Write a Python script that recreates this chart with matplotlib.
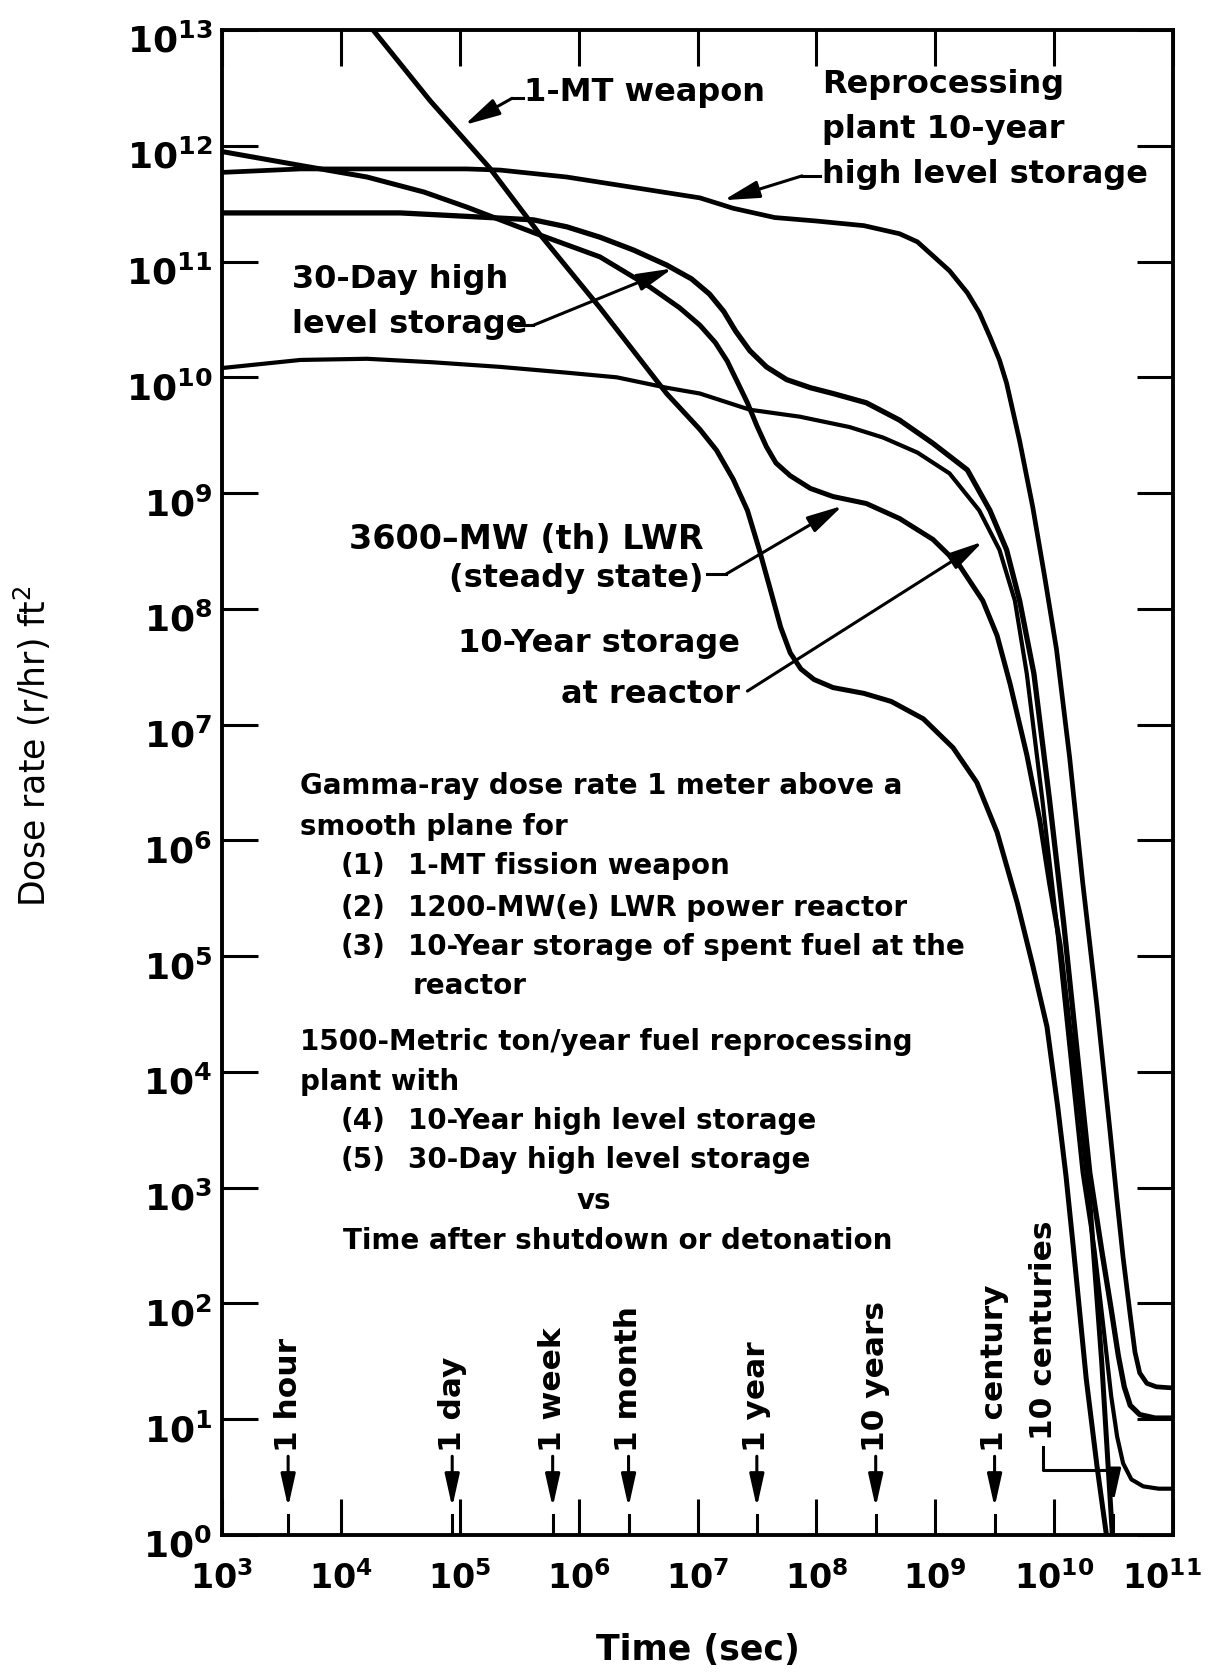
import numpy as np
import matplotlib
matplotlib.use("Agg")
import matplotlib.pyplot as plt
import matplotlib as mpl
import matplotlib.transforms as mtransforms
from matplotlib.ticker import NullLocator, FuncFormatter

mpl.rcParams['font.family'] = 'DejaVu Sans'
mpl.rcParams['mathtext.fontset'] = 'dejavusans'
mpl.rcParams['xtick.direction'] = 'in'
mpl.rcParams['ytick.direction'] = 'in'

# curves as log10(time in s), log10(dose rate)
weapon_lt = [4.20, 4.75, 5.25, 5.67, 6.18, 6.74, 7.02, 7.16, 7.30, 7.42, 7.52, 7.62, 7.70, 7.78, 7.87, 7.98,
             8.14, 8.40, 8.63, 8.90, 9.15, 9.35, 9.52, 9.69, 9.82, 9.94, 10.03, 10.10, 10.16, 10.27, 10.36, 10.44, 10.47]
weapon_ld = [13.09, 12.39, 11.81, 11.24, 10.60, 9.86, 9.55, 9.37, 9.12, 8.85, 8.51, 8.14, 7.84, 7.62, 7.48, 7.39,
             7.32, 7.27, 7.20, 7.05, 6.80, 6.50, 6.07, 5.46, 4.92, 4.39, 3.70, 3.10, 2.50, 1.35, 0.60, 0.00, -0.25]

lwr_lt = [3.00, 3.66, 4.22, 4.70, 5.06, 5.62, 6.18, 6.60, 6.85, 7.02, 7.15, 7.25, 7.34, 7.42, 7.50, 7.58, 7.66,
          7.78, 7.95, 8.14, 8.42, 8.70, 8.98, 9.20, 9.40, 9.52, 9.63, 9.77, 9.88, 9.96, 10.05, 10.13, 10.22,
          10.30, 10.40, 10.49, 10.52]
lwr_ld = [11.95, 11.83, 11.73, 11.60, 11.47, 11.25, 11.04, 10.78, 10.60, 10.45, 10.30, 10.14, 9.95, 9.78, 9.58, 9.40, 9.26,
          9.15, 9.04, 8.97, 8.91, 8.78, 8.60, 8.38, 8.07, 7.77, 7.35, 6.74, 6.17, 5.64, 5.10, 4.39, 3.67,
          2.88, 1.50, 0.00, -0.30]

day30_lt = [3.00, 4.50, 5.25, 5.62, 5.90, 6.18, 6.46, 6.74, 6.95, 7.10, 7.22, 7.32, 7.44, 7.58, 7.75, 7.95, 8.14,
            8.42, 8.70, 8.98, 9.27, 9.46, 9.60, 9.71, 9.83, 9.96, 10.08, 10.19, 10.30, 10.40, 10.48, 10.54,
            10.59, 10.64, 10.72, 10.85, 11.00]
day30_ld = [11.42, 11.42, 11.38, 11.36, 11.30, 11.21, 11.10, 10.97, 10.85, 10.72, 10.57, 10.40, 10.23, 10.09, 9.98, 9.91, 9.86,
            9.78, 9.63, 9.43, 9.20, 8.85, 8.51, 8.07, 7.44, 6.36, 5.29, 4.21, 3.13, 2.46, 1.95, 1.55,
            1.28, 1.12, 1.04, 1.01, 1.01]

reactor10_lt = [3.00, 3.66, 4.22, 4.77, 5.34, 5.90, 6.32, 6.74, 7.02, 7.44, 7.86, 8.28, 8.56, 8.85, 9.12, 9.37,
                9.54, 9.67, 9.77, 9.90, 10.02, 10.13, 10.24, 10.34, 10.42, 10.48, 10.53, 10.58, 10.65, 10.75,
                10.88, 11.00]
reactor10_ld = [10.08, 10.15, 10.16, 10.13, 10.09, 10.04, 10.00, 9.91, 9.86, 9.72, 9.66, 9.57, 9.48, 9.35, 9.17, 8.85,
                8.51, 8.07, 7.44, 6.36, 5.29, 4.21, 3.13, 2.46, 1.75, 1.20, 0.85, 0.62, 0.48, 0.42,
                0.40, 0.40]

reproc10_lt = [3.00, 3.66, 4.22, 5.06, 5.34, 5.90, 6.46, 7.02, 7.30, 7.65, 8.00, 8.40, 8.70, 8.85, 8.98, 9.12,
               9.27, 9.37, 9.46, 9.54, 9.60, 9.71, 9.82, 9.92, 10.02, 10.13, 10.24, 10.36, 10.47, 10.53, 10.58,
               10.64, 10.68, 10.72, 10.78, 10.86, 11.00]
reproc10_ld = [11.77, 11.80, 11.80, 11.80, 11.79, 11.73, 11.64, 11.55, 11.46, 11.38, 11.35, 11.31, 11.24, 11.17, 11.05, 10.92,
               10.73, 10.56, 10.35, 10.15, 9.95, 9.45, 8.88, 8.28, 7.65, 6.72, 5.64, 4.57, 3.49, 2.88, 2.40,
               1.90, 1.58, 1.40, 1.31, 1.28, 1.27]

# time markers along the bottom
marker_t = [3600, 86400, 604800, 2.63e6, 3.156e7, 3.156e8, 3.156e9]
marker_txt = ['1 hour', '1 day', '1 week', '1 month', '1 year', '10 years', '1 century']
ten_cent = 3.156e10

block_lines = [
    (3.656, 6.40, 'Gamma-ray dose rate 1 meter above a'),
    (3.656, 6.05, 'smooth plane for'),
    (4.001, 5.71, '(1)'), (4.564, 5.71, '1-MT fission weapon'),
    (4.001, 5.35, '(2)'), (4.564, 5.35, '1200-MW(e) LWR power reactor'),
    (4.001, 5.01, '(3)'), (4.564, 5.01, '10-Year storage of spent fuel at the'),
    (4.606, 4.67, 'reactor'),
    (3.656, 4.19, '1500-Metric ton/year fuel reprocessing'),
    (3.656, 3.84, 'plant with'),
    (4.001, 3.51, '(4)'), (4.564, 3.51, '10-Year high level storage'),
    (4.001, 3.17, '(5)'), (4.564, 3.17, '30-Day high level storage'),
    (4.018, 2.47, 'Time after shutdown or detonation'),
]

fig = plt.figure(figsize=(12.09, 16.72), dpi=100)
ax = fig.add_axes([222/1209, 1-1535/1672, (1173-222)/1209, (1535-30)/1672])
ax.set_xscale('log')
ax.set_yscale('log')

def P(lx, ly):
    return 10**lx, 10**ly

curves = [(weapon_lt, weapon_ld, 3.6), (lwr_lt, lwr_ld, 3.6), (day30_lt, day30_ld, 3.8),
          (reactor10_lt, reactor10_ld, 3.0), (reproc10_lt, reproc10_ld, 3.4)]
for lt, ld, lw in curves:
    ax.plot(10**np.array(lt), 10**np.array(ld), color='black', lw=lw,
            solid_capstyle='round', solid_joinstyle='round')

ax.set_xlim(1e3, 1e11)
ax.set_ylim(1, 1e13)
ax.set_xticks([10.0**k for k in range(3, 12)])
ax.set_yticks([10.0**k for k in range(0, 14)])
ax.xaxis.set_minor_locator(NullLocator())
ax.yaxis.set_minor_locator(NullLocator())
fmt = FuncFormatter(lambda v, pos: r'$\mathbf{10^{%d}}$' % int(round(np.log10(v))))
ax.xaxis.set_major_formatter(fmt)
ax.yaxis.set_major_formatter(fmt)
ax.tick_params(which='major', length=26, width=2.2, top=True, right=True)
ax.tick_params(axis='x', pad=19, labelsize=24)
ax.tick_params(axis='y', pad=7, labelsize=26)
shift = mtransforms.ScaledTranslation(0, -6/72, fig.dpi_scale_trans)
for lab in ax.get_yticklabels():
    lab.set_transform(lab.get_transform() + shift)
xlabs = ax.get_xticklabels()
xlabs[-1].set_transform(xlabs[-1].get_transform() +
                        mtransforms.ScaledTranslation(-8/72, 0, fig.dpi_scale_trans))
for sp in ax.spines.values():
    sp.set_linewidth(2.8)

tfont = dict(fontsize=23, fontweight='bold')
head = "-|>,head_length=0.9,head_width=0.22"
aprops = dict(arrowstyle=head, lw=2.2, color='black', mutation_scale=24, shrinkA=0, shrinkB=0)

# curve labels
ax.text(*P(5.54, 12.46), '1-MT weapon', ha='left', va='center', **tfont)
ax.plot(*P(np.array([5.53, 5.44]), np.array([12.41, 12.41])), color='black', lw=2.2)
ax.annotate('', xy=P(5.04, 12.18), xytext=P(5.44, 12.41), arrowprops=aprops)

for ly, s in [(12.46, 'Reprocessing'), (12.07, 'plant 10-year'), (11.68, 'high level storage')]:
    ax.text(*P(8.05, ly), s, ha='left', va='baseline', **tfont)
ax.annotate('', xy=P(7.22, 11.53), xytext=P(7.88, 11.74), arrowprops=aprops)
ax.plot(*P(np.array([7.88, 8.03]), np.array([11.74, 11.74])), color='black', lw=2.2)

for ly, s in [(10.77, '30-Day high'), (10.38, 'level storage')]:
    ax.text(*P(3.59, ly), s, ha='left', va='baseline', **tfont)
ax.plot(*P(np.array([5.47, 5.62]), np.array([10.45, 10.45])), color='black', lw=2.2)
ax.annotate('', xy=P(6.79, 10.94), xytext=P(5.62, 10.45), arrowprops=aprops)

ax.text(*P(7.05, 8.52), '3600\u2013MW (th) LWR', ha='right', va='baseline', fontsize=24, fontweight='bold')
ax.text(*P(7.05, 8.19), '(steady state)', ha='right', va='baseline', **tfont)
ax.plot(*P(np.array([7.08, 7.24]), np.array([8.30, 8.30])), color='black', lw=2.2)
ax.annotate('', xy=P(8.22, 8.89), xytext=P(7.24, 8.30), arrowprops=aprops)

for ly, s in [(7.63, '10-Year storage'), (7.19, 'at reactor')]:
    ax.text(*P(7.36, ly), s, ha='right', va='baseline', **tfont)
ax.annotate('', xy=P(9.40, 8.58), xytext=P(7.42, 7.29), arrowprops=aprops)

# description block
for lx, ly, s in block_lines:
    ax.text(*P(lx, ly), s, ha='left', va='baseline', fontsize=20, fontweight='bold')
ax.text(*P(6.13, 2.82), 'vs', ha='center', va='baseline', fontsize=20, fontweight='bold')

# time markers
mprops = dict(arrowstyle="-|>,head_length=0.9,head_width=0.2", lw=2.2, color='black',
              mutation_scale=22, shrinkA=0, shrinkB=0)
for t, s in zip(marker_t, marker_txt):
    ax.text(t, 10**0.72, s, rotation=90, ha='center', va='bottom', fontsize=22.5, fontweight='bold')
    ax.annotate('', xy=(t, 10**0.24), xytext=(t, 10**0.68), arrowprops=mprops)
    ax.plot([t, t], [1, 10**0.17], color='black', lw=2.2)

ax.text(10**9.91, 10**0.82, '10 centuries', rotation=90, ha='center', va='bottom',
        fontsize=22.5, fontweight='bold')
ax.plot([10**9.91, 10**9.91, ten_cent], [10**0.76, 10**0.56, 10**0.56], color='black', lw=2.2)
ax.annotate('', xy=(ten_cent, 10**0.28), xytext=(ten_cent, 10**0.56), arrowprops=mprops)
ax.plot([ten_cent, ten_cent], [1, 10**0.17], color='black', lw=2.2)

fig.text(698/1209, 1-1650/1672, 'Time (sec)', ha='center', va='center', fontsize=25, fontweight='bold')
fig.text(32/1209, 1-746/1672, 'Dose rate (r/hr) ft$^\\mathregular{2}$', rotation=90, ha='center', va='center',
         fontsize=25)

fig.savefig('out.png', dpi=100)
